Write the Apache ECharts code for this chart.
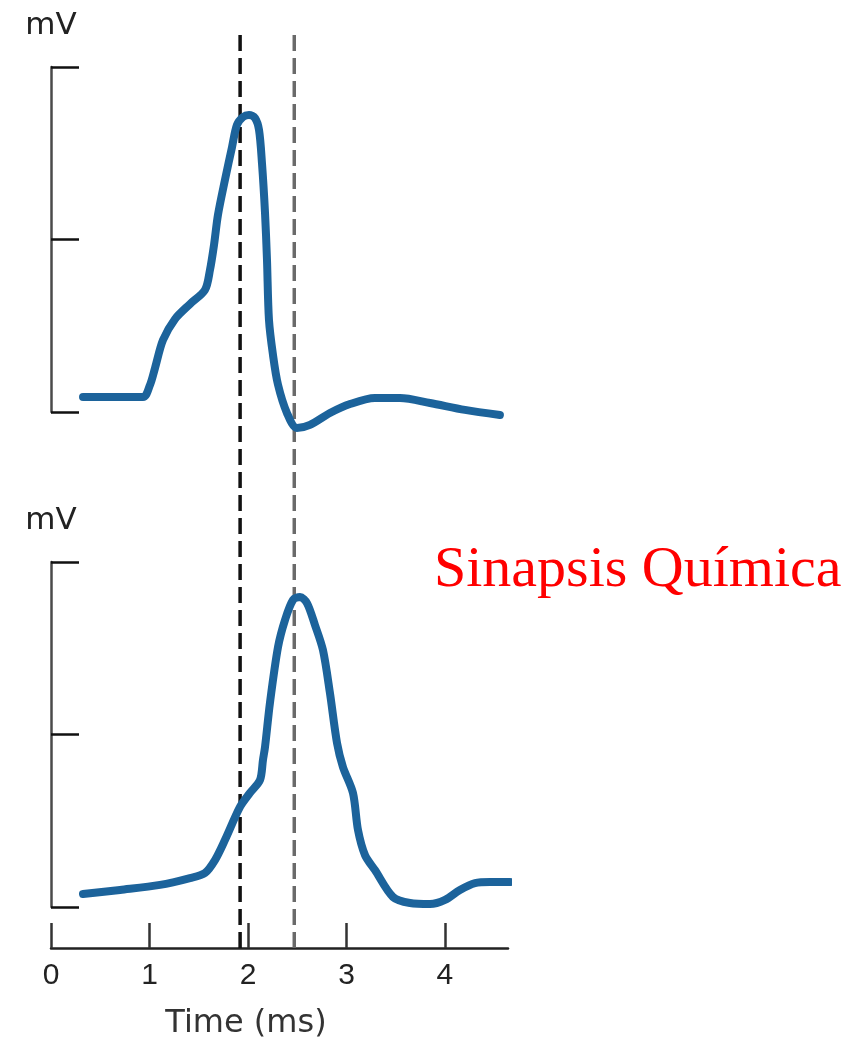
<!DOCTYPE html>
<html>
<head>
<meta charset="utf-8">
<title>Sinapsis Química</title>
<script src="https://cdn.jsdelivr.net/npm/echarts@6/dist/echarts.min.js"></script>
<style>
  html, body { margin: 0; padding: 0; background: #fff; }
  #main { width: 860px; height: 1041px; }
</style>
</head>
<body>
<!-- 为ECharts准备一个具备大小（宽高）的Dom -->
<div id="main"></div>
<script>
// time (ms) / mV pairs
const preTime = [0.325, 0.934, 1.005, 1.056, 1.137, 1.259, 1.411, 1.563, 1.614, 1.655, 1.695, 1.766, 1.838, 1.888, 1.949, 2.010, 2.071, 2.112, 2.142, 2.173, 2.193, 2.213, 2.254, 2.304, 2.396, 2.497, 2.629, 2.832, 3.036, 3.289, 3.543, 3.848, 4.203, 4.558]
const preVolt = [0.087, 0.087, 0.157, 0.255, 0.417, 0.539, 0.626, 0.707, 0.823, 0.968, 1.142, 1.345, 1.536, 1.664, 1.710, 1.722, 1.704, 1.635, 1.443, 1.154, 0.880, 0.535, 0.330, 0.160, -0.006, -0.093, -0.075, -0.006, 0.046, 0.081, 0.081, 0.052, 0.012, -0.017]

const postTime = [0.325, 0.701, 1.107, 1.411, 1.563, 1.665, 1.766, 1.919, 2.020, 2.122, 2.152, 2.173, 2.223, 2.305, 2.376, 2.457, 2.528, 2.599, 2.680, 2.761, 2.832, 2.904, 2.964, 3.066, 3.117, 3.188, 3.289, 3.472, 3.645, 3.848, 4.000, 4.152, 4.305, 4.457, 4.660]
const postVolt = [0.075, 0.099, 0.128, 0.168, 0.197, 0.272, 0.388, 0.580, 0.661, 0.736, 0.852, 0.928, 1.183, 1.507, 1.664, 1.780, 1.797, 1.762, 1.635, 1.490, 1.241, 0.951, 0.812, 0.661, 0.446, 0.301, 0.214, 0.058, 0.023, 0.017, 0.041, 0.099, 0.139, 0.145, 0.145]

// dashed markers (ms)
const markerTimes = [1.92, 2.47]
const xTicks = [0, 1, 2, 3, 4]

const blue = '#1c639b'
const zip = (a, b) => a.map((v, i) => [v, b[i]])

var myChart = echarts.init(document.getElementById('main'))

const yAxisBase = {
  min: 0,
  max: 2,
  interval: 1,
  name: 'mV',
  nameLocation: 'end',
  nameGap: 26,
  nameTextStyle: { fontFamily: 'DejaVu Sans', fontSize: 31, color: '#222', align: 'center' },
  axisLine: { show: true, lineStyle: { color: '#4a4a4a', width: 2.5 } },
  axisTick: { show: true, inside: true, length: 28, lineStyle: { color: '#111', width: 2.5 } },
  axisLabel: { show: false },
  splitLine: { show: false }
}

var option = {
  animation: false,
  grid: [
    { left: 51, width: 457, top: 67, height: 345 },
    { left: 51, width: 457, top: 562, height: 345 },
    { left: 51, width: 457, top: 28, height: 920 }
  ],
  xAxis: [
    { gridIndex: 0, type: 'value', min: 0, max: 4.64, show: false },
    {
      gridIndex: 1,
      type: 'value',
      min: 0,
      max: 4.64,
      interval: 1,
      offset: 41,
      axisLine: { show: true, onZero: false, lineStyle: { color: '#222', width: 2.5 } },
      axisTick: { show: true, inside: true, length: 25, lineStyle: { color: '#333', width: 2.5 } },
      axisLabel: {
        margin: 13,
        fontFamily: 'Liberation Sans',
        fontSize: 30,
        color: '#222',
        showMaxLabel: false,
        formatter: v => (xTicks.indexOf(v) >= 0 ? String(v) : '')
      },
      splitLine: { show: false }
    },
    { gridIndex: 2, type: 'value', min: 0, max: 4.64, show: false }
  ],
  yAxis: [
    Object.assign({ gridIndex: 0 }, yAxisBase),
    Object.assign({ gridIndex: 1 }, yAxisBase),
    { gridIndex: 2, type: 'value', min: 0, max: 1, show: false }
  ],
  graphic: [
    {
      type: 'text',
      x: 246,
      y: 1024,
      style: { text: 'Time (ms)', font: '32px "DejaVu Sans"', fill: '#333', align: 'center', verticalAlign: 'middle' }
    },
    {
      type: 'text',
      x: 434,
      y: 571,
      style: { text: 'Sinapsis Química', font: '58px "Liberation Serif"', fill: '#ff0000', align: 'left', verticalAlign: 'middle' }
    }
  ],
  series: [
    {
      type: 'line',
      xAxisIndex: 2,
      yAxisIndex: 2,
      data: [[markerTimes[0], 0], [markerTimes[0], 1]],
      symbol: 'none',
      lineStyle: { color: '#111', width: 3.5, type: [16, 7] },
      z: 1
    },
    {
      type: 'line',
      xAxisIndex: 2,
      yAxisIndex: 2,
      data: [[markerTimes[1], 0], [markerTimes[1], 1]],
      symbol: 'none',
      lineStyle: { color: '#6a6a6a', width: 3.5, type: [16, 7] },
      z: 1
    },
    {
      type: 'line',
      xAxisIndex: 0,
      yAxisIndex: 0,
      data: zip(preTime, preVolt),
      smooth: 0.3,
      clip: false,
      symbol: 'none',
      lineStyle: { color: blue, width: 8, cap: 'round', join: 'round' },
      z: 3
    },
    {
      type: 'line',
      xAxisIndex: 1,
      yAxisIndex: 1,
      data: zip(postTime, postVolt),
      smooth: 0.3,
      clip: false,
      symbol: 'none',
      lineStyle: { color: blue, width: 8, cap: 'round', join: 'round' },
      z: 3
    }
  ]
}

myChart.setOption(option)
</script>
</body>
</html>
